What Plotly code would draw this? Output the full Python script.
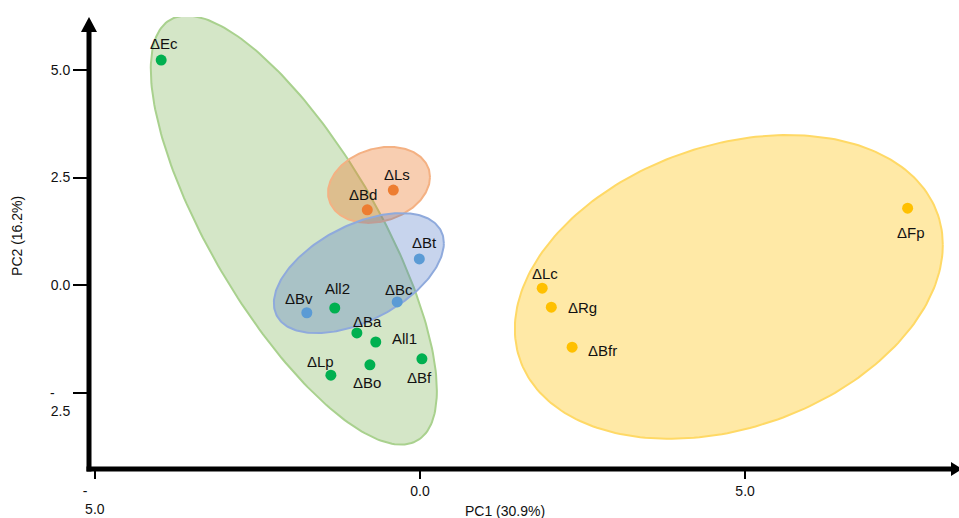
import numpy as np
import plotly.graph_objects as go

# PCA scores (PC1, PC2) per strain, grouped by cluster
green_names = ["ΔEc", "All2", "ΔBa", "All1", "ΔLp", "ΔBo", "ΔBf"]
green_pc1 = [-3.98, -1.31, -0.97, -0.68, -1.37, -0.77, 0.03]
green_pc2 = [5.23, -0.53, -1.11, -1.32, -2.09, -1.85, -1.71]

orange_names = ["ΔLs", "ΔBd"]
orange_pc1 = [-0.41, -0.81]
orange_pc2 = [2.21, 1.75]

blue_names = ["ΔBt", "ΔBc", "ΔBv"]
blue_pc1 = [-0.01, -0.35, -1.74]
blue_pc2 = [0.61, -0.39, -0.64]

yellow_names = ["ΔLc", "ΔRg", "ΔBfr", "ΔFp"]
yellow_pc1 = [1.88, 2.02, 2.34, 7.50]
yellow_pc2 = [-0.07, -0.51, -1.44, 1.79]

# Cluster ellipses: centre and shape matrix (green, orange, blue, yellow)
ell_cx = [-1.94, -0.63, -0.94, 4.75]
ell_cy = [1.28, 2.33, 0.28, -0.04]
ell_sxx = [4.84, 0.615, 1.709, 10.83]
ell_sxy = [-8.21, 0.143, 0.911, 3.212]
ell_syy = [24.83, 0.779, 1.945, 12.45]

x_ticks = [-5.0, 0.0, 5.0]
x_ticktext = ["-\u00a0\u00a0\u00a0\u00a0\u00a0<br>5.0", "0.0", "5.0"]
y_ticks = [-2.5, 0.0, 2.5, 5.0]
y_ticktext = ["<br>-\u00a0\u00a0\u00a0\u00a0<br>2.5", "0.0", "2.5", "5.0"]

# label offsets in pixels (dx, dy)
label_shift = {
    "ΔEc": (3, 17), "ΔLs": (4, 16), "ΔBd": (-4, 15), "ΔBt": (5, 16),
    "ΔBc": (2, 12), "ΔBv": (-8, 14), "All2": (3, 20), "ΔBa": (11, 11),
    "All1": (29, 4), "ΔLp": (-10, 14), "ΔBo": (-3, -18), "ΔBf": (-2, -19),
    "ΔLc": (3, 15), "ΔRg": (31, 0), "ΔBfr": (30, -3), "ΔFp": (3, -24),
}

ell_fill = ["rgba(112,173,71,0.30)", "rgba(237,125,49,0.38)",
            "rgba(68,114,196,0.30)", "rgba(255,192,0,0.35)"]
ell_line = ["#A9D18E", "#F4B183", "#8FAADC", "#FFD966"]

FONT = "Liberation Sans, Arial, sans-serif"

fig = go.Figure()

t = np.linspace(0, 2 * np.pi, 240)
for i in range(4):
    l11 = np.sqrt(ell_sxx[i])
    l21 = ell_sxy[i] / l11
    l22 = np.sqrt(ell_syy[i] - l21 ** 2)
    ex = ell_cx[i] + l11 * np.cos(t)
    ey = ell_cy[i] + l21 * np.cos(t) + l22 * np.sin(t)
    fig.add_trace(go.Scatter(
        x=ex, y=ey, mode="lines", fill="toself",
        fillcolor=ell_fill[i], line=dict(color=ell_line[i], width=2),
        hoverinfo="skip", showlegend=False,
    ))

groups = [
    (green_names, green_pc1, green_pc2, "#00B050"),
    (orange_names, orange_pc1, orange_pc2, "#ED7D31"),
    (blue_names, blue_pc1, blue_pc2, "#5B9BD5"),
    (yellow_names, yellow_pc1, yellow_pc2, "#FFC000"),
]

for names, xs, ys, col in groups:
    fig.add_trace(go.Scatter(
        x=xs, y=ys, mode="markers", text=names,
        marker=dict(color=col, size=11, line=dict(width=0)),
        showlegend=False,
    ))
    for n, xv, yv in zip(names, xs, ys):
        dx, dy = label_shift[n]
        fig.add_annotation(
            x=xv, y=yv, text=n, showarrow=False, xshift=dx, yshift=dy,
            font=dict(family=FONT, size=15, color="#111111"),
        )

# axis lines with arrow heads
axis_shapes = [
    dict(type="line", xref="paper", yref="paper", x0=0, x1=0,
         y0=-0.0055, y1=0.97, line=dict(color="black", width=5)),
    dict(type="line", xref="paper", yref="paper", x0=-0.0029, x1=0.992,
         y0=0, y1=0, line=dict(color="black", width=5)),
    dict(type="path", xref="paper", yref="paper",
         path="M -0.0092,0.9668 L 0,1.0 L 0.0092,0.9668 Z",
         fillcolor="black", line=dict(color="black", width=0)),
    dict(type="path", xref="paper", yref="paper",
         path="M 0.9908,-0.0155 L 1.0034,0 L 0.9908,0.0155 Z",
         fillcolor="black", line=dict(color="black", width=0)),
]
for s in axis_shapes:
    fig.add_shape(**s)

fig.add_annotation(
    xref="paper", yref="paper", x=0.478, y=-0.0923, text="PC1 (30.9%)",
    xanchor="center", yanchor="middle",
    showarrow=False, font=dict(family=FONT, size=14, color="#111111"),
)
fig.add_annotation(
    xref="paper", yref="paper", x=-0.0828, y=0.5155, text="PC2 (16.2%)",
    xanchor="center", yanchor="middle",
    showarrow=False, textangle=-90,
    font=dict(family=FONT, size=14, color="#111111"),
)

fig.update_layout(
    width=959, height=518,
    margin=dict(l=89, r=0, t=17, b=49),
    paper_bgcolor="white", plot_bgcolor="white",
    font=dict(family=FONT, size=14, color="#111111"),
    xaxis=dict(
        range=[-5.09, 8.29], tickvals=x_ticks, ticktext=x_ticktext,
        ticks="outside", ticklen=9, tickwidth=1.5, tickcolor="black",
        showgrid=False, zeroline=False, showline=False,
        tickfont=dict(family=FONT, size=14, color="#111111"),
    ),
    yaxis=dict(
        range=[-4.27, 6.23], tickvals=y_ticks, ticktext=y_ticktext,
        ticks="outside", ticklen=15, tickwidth=1.5, tickcolor="black",
        showgrid=False, zeroline=False, showline=False,
        tickfont=dict(family=FONT, size=14, color="#111111"),
    ),
)

fig.write_html("out.html")
